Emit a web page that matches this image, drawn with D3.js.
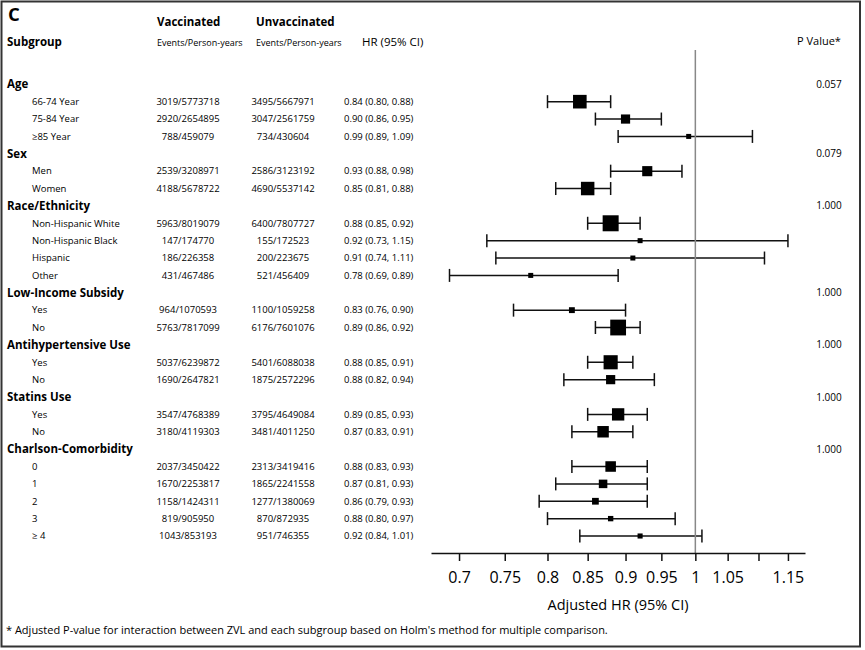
<!DOCTYPE html>
<html><head><meta charset="utf-8">
<script src="https://cdn.jsdelivr.net/npm/d3@7"></script>
<style>
body{margin:0;background:#fff}
svg{display:block;font-family:"Open Sans",sans-serif}
</style>
</head><body><svg id="chart" width="865" height="650"></svg>
<script>
// ---------------- data ----------------
const groupNames = ["Age","Sex","Race/Ethnicity","Low-Income Subsidy","Antihypertensive Use","Statins Use","Charlson-Comorbidity"];
const groupPValues = ["0.057","0.079","1.000","1.000","1.000","1.000","1.000"];
const groupSizes = [3,2,4,2,2,2,5];
const subgroupLabels = ["66-74 Year","75-84 Year","≥85 Year","Men","Women","Non-Hispanic White","Non-Hispanic Black","Hispanic","Other","Yes","No","Yes","No","Yes","No","0","1","2","3","≥ 4"];
const vaccEvents = [3019,2920,788,2539,4188,5963,147,186,431,964,5763,5037,1690,3547,3180,2037,1670,1158,819,1043];
const vaccPersonYears = [5773718,2654895,459079,3208971,5678722,8019079,174770,226358,467486,1070593,7817099,6239872,2647821,4768389,4119303,3450422,2253817,1424311,905950,853193];
const unvaccEvents = [3495,3047,734,2586,4690,6400,155,200,521,1100,6176,5401,1875,3795,3481,2313,1865,1277,870,951];
const unvaccPersonYears = [5667971,2561759,430604,3123192,5537142,7807727,172523,223675,456409,1059258,7601076,6088038,2572296,4649084,4011250,3419416,2241558,1380069,872935,746355];
const hrValues = [0.84,0.90,0.99,0.93,0.85,0.88,0.92,0.91,0.78,0.83,0.89,0.88,0.88,0.89,0.87,0.88,0.87,0.86,0.88,0.92];
const ciLower = [0.80,0.86,0.89,0.88,0.81,0.85,0.73,0.74,0.69,0.76,0.86,0.85,0.82,0.85,0.83,0.83,0.81,0.79,0.80,0.84];
const ciUpper = [0.88,0.95,1.09,0.98,0.88,0.92,1.15,1.11,0.89,0.90,0.92,0.91,0.94,0.93,0.91,0.93,0.93,0.93,0.97,1.01];
const tickValues = [0.7,0.75,0.8,0.85,0.9,0.95,1,1.05,1.1,1.15];
const tickLabels = ["0.7","0.75","0.8","0.85","0.9","0.95","1","1.05","","1.15"];
const footnote = "* Adjusted P-value for interaction between ZVL and each subgroup based on Holm's method for multiple comparison.";

// ---------------- build rows ----------------
const rows = [];
let k = 0;
groupNames.forEach((g, gi) => {
  rows.push({header: true, label: g, p: groupPValues[gi]});
  for (let j = 0; j < groupSizes[gi]; j++, k++) {
    rows.push({header: false, label: subgroupLabels[k],
      vacc: vaccEvents[k] + "/" + vaccPersonYears[k],
      unvacc: unvaccEvents[k] + "/" + unvaccPersonYears[k],
      hr: hrValues[k], lo: ciLower[k], hi: ciUpper[k],
      py: vaccPersonYears[k] + unvaccPersonYears[k]});
  }
});

const svg = d3.select("#chart");
const W = 865, H = 650;
svg.append("rect").attr("width", W).attr("height", H).attr("fill", "#fff");
svg.append("rect").attr("x", 1.5).attr("y", 1.5).attr("width", 858.5).attr("height", 645)
  .attr("fill", "none").attr("stroke", "#333").attr("stroke-width", 2);

const y = d3.scalePoint().domain(d3.range(rows.length)).range([84.3, 536]);
const x = d3.scaleLog().domain([0.671, 1.18]).range([431, 805]);
const f2 = d3.format(".2f");
const subRows = rows.filter(r => !r.header);
const size = d3.scaleSqrt().domain([0, d3.max(subRows, r => r.py)]).range([0, 16]);

// ---------------- headers ----------------
const hdr = svg.append("g").attr("fill", "#000");
hdr.append("text").attr("x", 8).attr("y", 21).attr("font-size", 18.5).attr("font-weight", "bold").text("C");
hdr.append("text").attr("x", 7).attr("y", 46).attr("font-size", 11.5).attr("font-weight", "bold").text("Subgroup");
hdr.append("text").attr("x", 157).attr("y", 26).attr("font-size", 11.5).attr("font-weight", "bold").text("Vaccinated");
hdr.append("text").attr("x", 256).attr("y", 26).attr("font-size", 11.5).attr("font-weight", "bold").text("Unvaccinated");
hdr.append("text").attr("x", 157).attr("y", 46).attr("font-size", 9).text("Events/Person-years");
hdr.append("text").attr("x", 256).attr("y", 46).attr("font-size", 9).text("Events/Person-years");
hdr.append("text").attr("x", 362).attr("y", 46).attr("font-size", 11.5).text("HR (95% CI)");
hdr.append("text").attr("x", 797).attr("y", 45).attr("font-size", 11).text("P Value*");

// ---------------- table ----------------
const tbl = svg.append("g").selectAll("g").data(rows).join("g")
  .attr("transform", (d, i) => `translate(0,${y(i)})`);
tbl.filter(d => d.header).append("text").attr("x", 7).attr("dy", "0.35em")
  .attr("font-size", 11.5).attr("font-weight", "bold").text(d => d.label);
tbl.filter(d => d.header).append("text").attr("x", 829).attr("dy", "0.35em")
  .attr("text-anchor", "middle").attr("font-size", 10).text(d => d.p);
const sr = tbl.filter(d => !d.header);
sr.append("text").attr("x", 32).attr("dy", "0.35em").attr("font-size", 9.5).text(d => d.label);
sr.append("text").attr("x", 188).attr("dy", "0.35em").attr("text-anchor", "middle").attr("font-size", 9.5).text(d => d.vacc);
sr.append("text").attr("x", 283).attr("dy", "0.35em").attr("text-anchor", "middle").attr("font-size", 9.5).text(d => d.unvacc);
sr.append("text").attr("x", 344).attr("dy", "0.35em").attr("font-size", 9.5)
  .text(d => `${f2(d.hr)} (${f2(d.lo)}, ${f2(d.hi)})`);

// ---------------- reference line ----------------
svg.append("line").attr("x1", x(1)).attr("x2", x(1)).attr("y1", 50).attr("y2", 553)
  .attr("stroke", "#888").attr("stroke-width", 1.5);

// ---------------- forest marks ----------------
const capH = 6.5;
sr.append("line").attr("x1", d => x(d.lo)).attr("x2", d => x(d.hi))
  .attr("stroke", "#111").attr("stroke-width", 1.5);
sr.append("line").attr("x1", d => x(d.lo)).attr("x2", d => x(d.lo)).attr("y1", -capH).attr("y2", capH)
  .attr("stroke", "#111").attr("stroke-width", 1.5);
sr.append("line").attr("x1", d => x(d.hi)).attr("x2", d => x(d.hi)).attr("y1", -capH).attr("y2", capH)
  .attr("stroke", "#111").attr("stroke-width", 1.5);
sr.append("rect")
  .attr("x", d => x(d.hr) - Math.max(5, size(d.py)) / 2)
  .attr("y", d => -Math.max(5, size(d.py)) / 2)
  .attr("width", d => Math.max(5, size(d.py)))
  .attr("height", d => Math.max(5, size(d.py)))
  .attr("fill", "#000");

// ---------------- axis ----------------
const axis = d3.axisBottom(x).tickValues(tickValues)
  .tickFormat((d, i) => tickLabels[i]).tickSize(8).tickSizeOuter(0).tickPadding(11);
const ax = svg.append("g").attr("transform", "translate(0,553)").call(axis);
ax.select(".domain").attr("stroke", "#111").attr("stroke-width", 1.5);
ax.selectAll(".tick line").attr("stroke", "#111").attr("stroke-width", 1.5);
ax.selectAll(".tick text").attr("font-size", 16).attr("font-family", "Open Sans, sans-serif").attr("fill", "#000");
svg.append("text").attr("x", 618).attr("y", 610).attr("text-anchor", "middle")
  .attr("font-size", 14.5).text("Adjusted HR (95% CI)");

// ---------------- footnote ----------------
svg.append("text").attr("x", 6).attr("y", 634).attr("font-size", 11).text(footnote);
</script>
</body></html>
